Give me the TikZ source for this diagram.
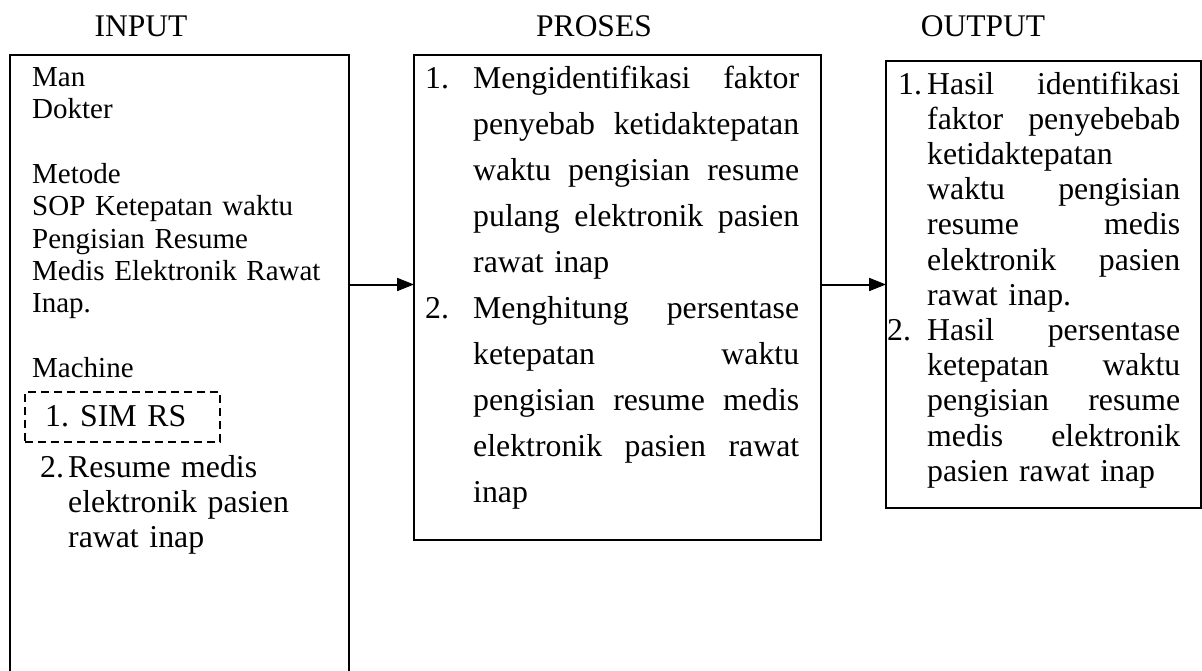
\documentclass[tikz,border=0pt]{standalone}
\usepackage{fontspec}
\setmainfont{Liberation Serif}
\usetikzlibrary{arrows.meta}

\newcommand{\jline}[2]{\hbox to #1{#2}}
\newcommand{\bigserif}[1]{\fontsize{31.8pt}{#1}\selectfont}

\tikzstyle{pixels}=[x=1pt,y=-1pt]
\tikzstyle{head}=[anchor=base, inner sep=0pt, font=\fontsize{31.5pt}{36pt}\selectfont]
\tikzstyle{box}=[draw, line width=2pt, inner sep=0pt, outer sep=0pt, anchor=north west]
\tikzstyle{dashbox}=[box, line width=1.8pt, dash pattern=on 8pt off 5pt]
\tikzstyle{lefttext}=[anchor=base west, inner sep=0pt, align=left, text width=320pt, font=\fontsize{29pt}{32.4pt}\selectfont]
\tikzstyle{listtext}=[anchor=base west, inner sep=0pt, align=left, font=\bigserif{46pt}]

\tikzstyle{arr}=[line width=2pt, -{Triangle[length=17pt,width=13pt]}]

\begin{document}
\begin{tikzpicture}[style=pixels]
\useasboundingbox (0,0) rectangle (1202,670);
\clip (0,0) rectangle (1202,670);

\foreach \lbl/\x in {INPUT/141,PROSES/594,OUTPUT/983}{% column titles
    \node[head] (\lbl) at (\x,36) {\lbl};
}

\node[box, minimum width=339pt, minimum height=645pt] (inbox) at (10,55) {};
\node[box, minimum width=407pt, minimum height=485pt] (probox) at (414,55) {};
\node[box, minimum width=315pt, minimum height=447pt] (outbox) at (886,61) {};
\node[dashbox, minimum width=195pt, minimum height=50pt] (simbox) at (25,392) {};

% input
\node[lefttext] (intext) at (32,86) {Man\\Dokter\\[32.4pt]Metode\\SOP Ketepatan waktu\\Pengisian Resume\\Medis Elektronik Rawat\\Inap.\\[32.4pt]Machine};
\node[listtext, text width=300pt] (simtext) at (45,426) {\makebox[35pt][l]{1.}SIM RS};
\node[listtext, text width=300pt, font=\bigserif{35pt}] (resumetext) at (40,477) {\makebox[28pt][l]{2.}Resume medis\\
    \hspace*{28pt}elektronik pasien\\
    \hspace*{28pt}rawat inap};

% proses
\node[listtext, text width=380pt] (protext) at (425,88) {%
    \makebox[48pt][l]{1.}\jline{326pt}{Mengidentifikasi\hfill faktor}\\
    \hspace*{48pt}\jline{326pt}{penyebab\hfill ketidaktepatan}\\
    \hspace*{48pt}\jline{326pt}{waktu\hfill pengisian\hfill resume}\\
    \hspace*{48pt}\jline{326pt}{pulang\hfill elektronik\hfill pasien}\\
    \hspace*{48pt}rawat inap\\
    \makebox[48pt][l]{2.}\jline{326pt}{Menghitung\hfill persentase}\\
    \hspace*{48pt}\jline{326pt}{ketepatan\hfill waktu}\\
    \hspace*{48pt}\jline{326pt}{pengisian\hfill resume\hfill medis}\\
    \hspace*{48pt}\jline{326pt}{elektronik\hfill pasien\hfill rawat}\\
    \hspace*{48pt}inap};

% output
\node[listtext, text width=300pt, font=\bigserif{35.2pt}] (outtext) at (898,94) {%
    \makebox[29pt][l]{1.}\jline{253pt}{Hasil\hfill identifikasi}\\
    \hspace*{29pt}\jline{253pt}{faktor\hfill penyebebab}\\
    \hspace*{29pt}ketidaktepatan\\
    \hspace*{29pt}\jline{253pt}{waktu\hfill pengisian}\\
    \hspace*{29pt}\jline{253pt}{resume\hfill medis}\\
    \hspace*{29pt}\jline{253pt}{elektronik\hfill pasien}\\
    \hspace*{29pt}rawat inap.\\
    \hspace*{-11pt}\makebox[40pt][l]{2.}\jline{253pt}{Hasil\hfill persentase}\\
    \hspace*{29pt}\jline{253pt}{ketepatan\hfill waktu}\\
    \hspace*{29pt}\jline{253pt}{pengisian\hfill resume}\\
    \hspace*{29pt}\jline{253pt}{medis\hfill elektronik}\\
    \hspace*{29pt}pasien rawat inap};

\foreach \a/\b in {inbox/probox,probox/outbox}{% arrows
    \draw[arr] (\a.east |- outbox.west) -- (\b.west |- outbox.west);
}

\end{tikzpicture}
\end{document}
